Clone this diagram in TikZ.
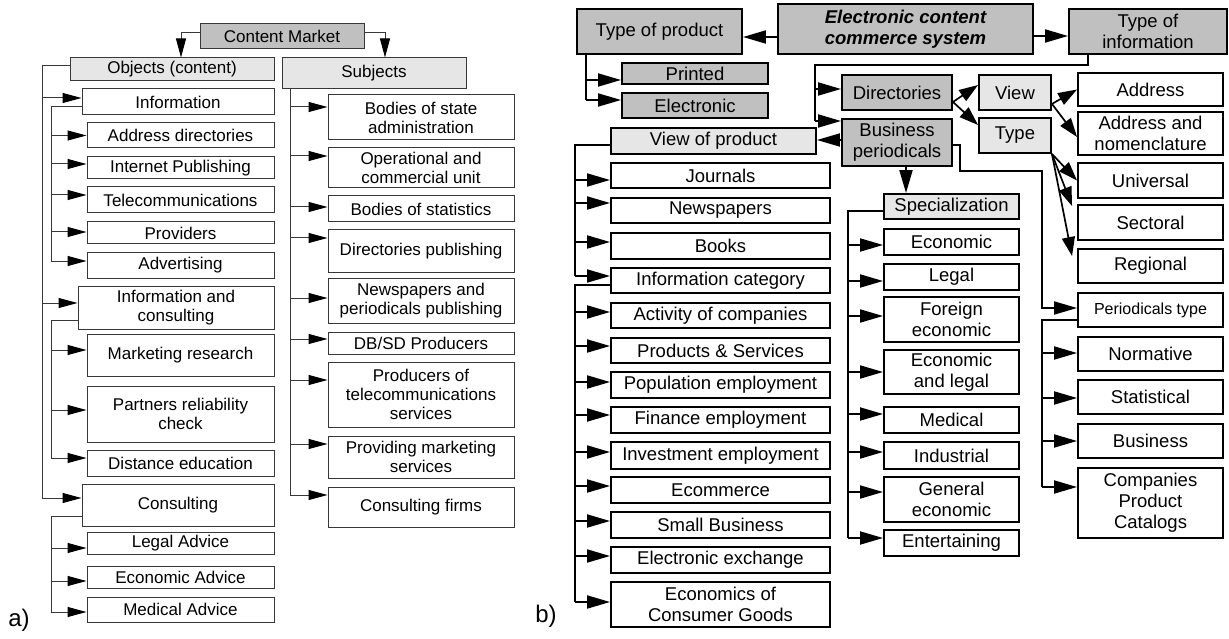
\documentclass[tikz,border=0pt]{standalone}
\usepackage{fontspec}
\setmainfont{Liberation Sans}
\usetikzlibrary{arrows.meta,calc}
\definecolor{lcol}{HTML}{383838}
\definecolor{dgray}{HTML}{C0C0C0}
\definecolor{lgray}{HTML}{E6E6E6}
\newcommand\bx[6]{\node[#1, minimum width={#4-#2}, minimum height={#5-#3}] (#6) at ({(#2+#4)/2},{(#3+#5)/2})}
\newcommand\feed[4]{\path ($(#3.west)+(0,#4)$) coordinate (fd); \draw[#1] (#2 |- fd) -- (fd);}
\newcommand\trunk[6]{\path ($(#2.west)+(0,#3)$) coordinate (ta) ($(#5.west)+(0,#6)$) coordinate (tb); \draw[#1] (ta) -| (#4 |- tb);}
\tikzset{
  lbox/.style={draw=lcol, line width=1pt, inner sep=1pt, align=center, font=\fontsize{17}{19}\selectfont},
  rbox/.style={draw=black, line width=1.9pt, inner sep=1pt, align=center, font=\fontsize{18.5}{21}\selectfont},
  lline/.style={draw=lcol, line width=1pt},
  larr/.style={lline, -{Triangle[length=19pt,width=10pt,color=black]}},
  rline/.style={draw=black, line width=1.9pt},
  rarr/.style={rline, -{Triangle[length=23pt,width=13pt]}},
  darr/.style={draw=black, line width=1.7pt, -{Triangle[length=19pt,width=13pt]}},
  lbl/.style={font=\fontsize{24}{26}\selectfont, inner sep=0pt}
}
\begin{document}
\begin{tikzpicture}[x=1pt,y=-1pt]
\useasboundingbox (0,0) rectangle (1229,639);
% ================= (a) =================
\bx{lbox,fill=dgray}{200}{24}{364}{49}{cm} {Content Market};
\bx{lbox,fill=lgray}{70}{58}{274}{81}{obj} {Objects (content)};
\bx{lbox,fill=lgray}{282}{58}{466}{89}{subj} {Subjects};
\bx{lbox}{82}{89}{274}{115}{info} {Information};
\bx{lbox}{87}{123}{274}{148}{ad} {Address directories};
\bx{lbox}{87}{157}{274}{179}{ip} {Internet Publishing};
\bx{lbox}{87}{187}{274}{213}{tel} {Telecommunications};
\bx{lbox}{87}{222}{274}{244}{prov} {Providers};
\bx{lbox}{87}{253}{274}{278}{adv} {Advertising};
\bx{lbox}{78}{286}{274}{329}{iac} {Information and\\consulting};
\bx{lbox}{87}{334}{274}{376}{mr} {Marketing research};
\bx{lbox}{87}{386}{274}{442}{prc} {Partners reliability\\check};
\bx{lbox}{87}{450}{274}{476}{de} {Distance education};
\bx{lbox}{82}{484}{274}{526}{cons} {Consulting};
\bx{lbox}{87}{532}{274}{554}{la} {Legal Advice};
\bx{lbox}{87}{566}{274}{588}{ea} {Economic Advice};
\bx{lbox}{87}{597}{274}{622}{ma} {Medical Advice};
\bx{lbox}{328}{95}{514}{140}{s1} {Bodies of state\\administration};
\bx{lbox}{328}{148}{514}{188}{s2} {Operational and\\commercial unit};
\bx{lbox}{328}{196}{514}{222}{s3} {Bodies of statistics};
\bx{lbox}{328}{230}{514}{272}{s4} {Directories publishing};
\bx{lbox}{328}{278}{514}{323}{s5} {Newspapers and\\periodicals publishing};
\bx{lbox}{328}{332}{514}{354}{s6} {DB/SD Producers};
\bx{lbox}{328}{362}{514}{427}{s7} {Producers of\\telecommunications\\services};
\bx{lbox}{328}{436}{514}{478}{s8} {Providing marketing\\services};
\bx{lbox}{328}{487}{514}{527}{s9} {Consulting firms};
\node[lbl] (alab) at (19,620) {a)};

\draw[larr] ($(cm.west)+(0,-4)$) -| ([xshift=9pt]obj.north);
\draw[larr] ($(cm.east)+(0,-4)$) -| ([xshift=11pt]subj.north);
\coordinate (L1) at (42,0);
\coordinate (L2) at (51,0);
\coordinate (L5) at (290,0);
\trunk{lline}{obj}{-3.5}{L1}{cons}{-7}
\feed{larr}{L1}{info}{-4}
\feed{larr}{L1}{iac}{-4.5}
\feed{larr}{L1}{cons}{-7}
\trunk{lline}{info}{5}{L2}{adv}{-4.5}
\feed{larr}{L2}{ad}{0}
\feed{larr}{L2}{ip}{-4}
\feed{larr}{L2}{tel}{-5}
\feed{larr}{L2}{prov}{-1}
\feed{larr}{L2}{adv}{-4.5}
\trunk{lline}{iac}{12.5}{L2}{de}{-5}
\feed{larr}{L2}{mr}{-5}
\feed{larr}{L2}{prc}{-4}
\feed{larr}{L2}{de}{-5}
\trunk{lline}{cons}{11}{L2}{ma}{2.5}
\feed{larr}{L2}{la}{5}
\feed{larr}{L2}{ea}{4}
\feed{larr}{L2}{ma}{2.5}
\path ($(s9.west)+(0,-12)$) coordinate (tb);
\draw[lline] (L5 |- subj.south) -- (L5 |- tb);
\feed{larr}{L5}{s1}{-10.5}
\feed{larr}{L5}{s2}{-12}
\feed{larr}{L5}{s3}{-2}
\feed{larr}{L5}{s4}{-13}
\feed{larr}{L5}{s5}{-2.5}
\feed{larr}{L5}{s6}{-4}
\feed{larr}{L5}{s7}{-14.5}
\feed{larr}{L5}{s8}{-13}
\feed{larr}{L5}{s9}{-12}
% ================= (b) =================
\bx{rbox,fill=dgray,font=\fontsize{18.5}{21}\selectfont\bfseries\itshape}{778}{4}{1033}{54}{ecs} {Electronic content\\commerce system};
\bx{rbox,fill=dgray}{577}{9}{742}{54}{top} {Type of product};
\bx{rbox,fill=dgray}{1069}{9}{1227}{54}{toi} {Type of\\information};
\bx{rbox,fill=dgray}{622}{63}{768}{84}{pr} {Printed};
\bx{rbox,fill=dgray}{622}{93}{768}{118}{el} {Electronic};
\bx{rbox,fill=dgray}{842}{75}{952}{110}{dir} {Directories};
\bx{rbox,fill=dgray}{842}{119}{952}{166}{bp} {Business\\periodicals};
\bx{rbox,fill=lgray}{611}{128}{816}{154}{vop} {View of product};
\bx{rbox,fill=lgray}{979}{75}{1051}{110}{view} {View};
\bx{rbox,fill=lgray}{979}{118}{1051}{153}{type} {Type};
\bx{rbox}{1078}{73}{1223}{106}{addr} {Address};
\bx{rbox}{1078}{112}{1223}{155}{adn} {Address and\\nomenclature};
\bx{rbox}{1078}{163}{1223}{198}{uni} {Universal};
\bx{rbox}{1078}{205}{1223}{240}{sec} {Sectoral};
\bx{rbox}{1078}{249}{1223}{283}{reg} {Regional};
\bx{rbox,font=\fontsize{16}{19}\selectfont}{1078}{293}{1223}{327}{pt} {Periodicals type};
\bx{rbox}{1078}{337}{1223}{371}{nor} {Normative};
\bx{rbox}{1078}{380}{1223}{414}{sta} {Statistical};
\bx{rbox}{1078}{424}{1223}{458}{bus} {Business};
\bx{rbox}{1078}{468}{1223}{538}{cpc} {Companies\\Product\\Catalogs};
\bx{rbox,fill=lgray}{884}{194}{1019}{219}{spec} {Specialization};
\bx{rbox}{884}{229}{1019}{255}{sp1} {Economic};
\bx{rbox}{884}{264}{1019}{290}{sp2} {Legal};
\bx{rbox}{884}{297}{1019}{342}{sp3} {Foreign\\economic};
\bx{rbox}{884}{350}{1019}{394}{sp4} {Economic\\and legal};
\bx{rbox}{884}{407}{1019}{433}{sp5} {Medical};
\bx{rbox}{884}{442}{1019}{469}{sp6} {Industrial};
\bx{rbox}{884}{477}{1019}{522}{sp7} {General\\economic};
\bx{rbox}{884}{530}{1019}{556}{sp8} {Entertaining};
\bx{rbox}{611}{163}{830}{188}{v1} {Journals};
\bx{rbox}{611}{198}{830}{223}{v2} {Newspapers};
\bx{rbox}{611}{233}{830}{259}{v3} {Books};
\bx{rbox}{611}{268}{830}{293}{v4} {Information category};
\bx{rbox}{611}{303}{830}{328}{v5} {Activity of companies};
\bx{rbox}{611}{338}{830}{363}{v6} {Products \& Services};
\bx{rbox}{611}{372}{830}{398}{v7} {Population employment};
\bx{rbox}{611}{407}{830}{433}{v8} {Finance employment};
\bx{rbox}{611}{442}{830}{469}{v9} {Investment employment};
\bx{rbox}{611}{477}{830}{503}{v10} {Ecommerce};
\bx{rbox}{611}{512}{830}{538}{v11} {Small Business};
\bx{rbox}{611}{547}{830}{573}{v12} {Electronic exchange};
\bx{rbox}{611}{582}{830}{627}{v13} {Economics of\\Consumer Goods};
\node[lbl] (blab) at (546,616) {b)};

\path ($(ecs.west)+(0,8)$) coordinate (ew);
\draw[rarr] (ew) -- (top.east |- ew);
\path ($(ecs.east)+(0,7)$) coordinate (ee);
\draw[rarr] (ee) -- (toi.west |- ee);
\coordinate (R1) at (586,0);
\path ($(el.west)+(0,-5.5)$) coordinate (tb);
\draw[rline] (R1 |- top.south) -- (R1 |- tb);
\feed{rarr}{R1}{pr}{6.5}
\feed{rarr}{R1}{el}{-5.5}
\coordinate (R2) at (815,65);
\path ($(bp.west)+(0,-21.5)$) coordinate (tb);
\draw[rline] ([xshift=-60pt]toi.south) |- (R2) -- (R2 |- tb);
\feed{rarr}{R2}{dir}{-3.5}
\feed{rarr}{R2}{bp}{-21.5}
\path ($(bp.west)+(0,-2.5)$) coordinate (bpw);
\draw[rarr] (bpw) -- (vop.east |- bpw);
\draw[rarr] ([xshift=9pt]bp.south) -- ([xshift=9pt]bp.south |- spec.north);
\coordinate (B1) at (960,171);
\coordinate (R6) at (1042,0);
\path ($(pt.west)+(0,-2)$) coordinate (fdpt);
\draw[rarr] ($(bp.east)+(0,2.5)$) -| (B1) -| (R6 |- fdpt) -- (fdpt);
\trunk{rline}{pt}{10}{R6}{cpc}{-16}
\feed{rarr}{R6}{nor}{-1}
\feed{rarr}{R6}{sta}{1}
\feed{rarr}{R6}{bus}{0}
\feed{rarr}{R6}{cpc}{-16}
\coordinate (R3) at (575,0);
\coordinate (R5) at (848,0);
\trunk{rline}{vop}{4}{R3}{v4}{-4.5}
\feed{rarr}{R3}{v1}{4.5}
\feed{rarr}{R3}{v2}{-7.5}
\feed{rarr}{R3}{v3}{-4}
\feed{rarr}{R3}{v4}{-4.5}
\trunk{rline}{v4}{4.5}{R3}{v13}{-2.5}
\feed{rarr}{R3}{v5}{-3.5}
\feed{rarr}{R3}{v6}{-4.5}
\feed{rarr}{R3}{v7}{-3}
\feed{rarr}{R3}{v8}{-5}
\feed{rarr}{R3}{v9}{-3.5}
\feed{rarr}{R3}{v10}{-4}
\feed{rarr}{R3}{v11}{-4}
\feed{rarr}{R3}{v12}{-4}
\feed{rarr}{R3}{v13}{-2.5}
\trunk{rline}{spec}{4.5}{R5}{sp8}{-5}
\feed{rarr}{R5}{sp1}{3}
\feed{rarr}{R5}{sp2}{4}
\feed{rarr}{R5}{sp3}{-3.5}
\feed{rarr}{R5}{sp4}{0}
\feed{rarr}{R5}{sp5}{-6}
\feed{rarr}{R5}{sp6}{-3.5}
\feed{rarr}{R5}{sp7}{-7.5}
\feed{rarr}{R5}{sp8}{-5}
\path ($(dir.south east)+(0,-9)$) coordinate (dd);
\draw[darr] (dd) -- ($(view.west)+(0,-7.5)$);
\draw[darr] (dd) -- ($(type.west)+(0,-10.5)$);
\path ($(view.south east)+(0,-7)$) coordinate (vv);
\draw[darr] (vv) -- (addr.west);
\draw[darr] (vv) -- ($(adn.west)+(0,3.5)$);
\draw[darr] (type.south east) -- (uni.west);
\draw[darr] (type.south east) -- ($(sec.north west)+(-5,2)$);
\draw[darr] (type.south east) -- ($(reg.north west)+(-5,8)$);
\end{tikzpicture}
\end{document}
